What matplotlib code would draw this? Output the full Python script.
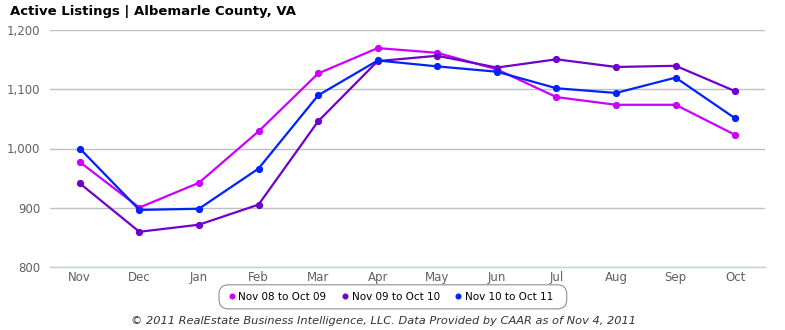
import matplotlib.pyplot as plt
from matplotlib.patches import FancyBboxPatch

months = ['Nov', 'Dec', 'Jan', 'Feb', 'Mar', 'Apr', 'May', 'Jun', 'Jul', 'Aug', 'Sep', 'Oct']
labels = ['Nov 08 to Oct 09', 'Nov 09 to Oct 10', 'Nov 10 to Oct 11']
colors = ['#cc00ff', '#7000cc', '#0022ff']

listings_0809 = [977, 900, 942, 1029, 1127, 1170, 1162, 1134, 1087, 1074, 1074, 1023]
listings_0910 = [941, 859, 871, 905, 1046, 1148, 1157, 1137, 1151, 1138, 1140, 1097]
listings_1011 = [1000, 896, 898, 966, 1090, 1149, 1139, 1130, 1102, 1094, 1120, 1051]
series = [listings_0809, listings_0910, listings_1011]

fig = plt.figure(figsize=(7.85, 3.3), dpi=100)
ax = fig.add_axes([0.0637, 0.192, 0.9108, 0.716])

x = range(len(months))
handles = []
for vals, lab, c in zip(series, labels, colors):
    h, = ax.plot(x, vals, color=c, lw=1.6, marker='o', ms=4.2, label=lab,
                 solid_joinstyle='round')
    handles.append(h)

ax.set_xlim(-0.5, 11.5)
ax.set_ylim(800, 1200)
ax.set_yticks([800, 900, 1000, 1100, 1200])
ax.set_yticklabels(['{:,}'.format(v) for v in ax.get_yticks().astype(int)])
ax.set_xticks(list(x))
ax.set_xticklabels(months)
ax.grid(axis='y', color='#c0c0c0', lw=1)
ax.set_axisbelow(True)
for s in ['top', 'right', 'left']:
    ax.spines[s].set_visible(False)
ax.spines['bottom'].set_color('#c0d0e0')
ax.spines['bottom'].set_linewidth(1)
ax.tick_params(axis='both', length=0, labelsize=8.5, labelcolor='#606060')
ax.tick_params(axis='y', pad=7)
ax.tick_params(axis='x', pad=3)

fig.text(0.0127, 0.965, 'Active Listings | Albemarle County, VA', fontsize=9.5,
         fontweight='bold', va='center', ha='left')

# legend box with rounded border
box = FancyBboxPatch((0.279, 0.064), 0.443, 0.073, transform=fig.transFigure,
                     boxstyle='round,pad=0,rounding_size=0.012', fc='white',
                     ec='#909090', lw=0.8, mutation_aspect=2.4)
fig.patches.append(box)
fig.legend(handles=handles, loc='center', bbox_to_anchor=(0.5, 0.1), ncol=3,
           frameon=False, fontsize=7.5, handlelength=0, handletextpad=0.6,
           columnspacing=1.8, markerscale=0.8)
for h in fig.legends[0].legend_handles:
    h.set_linestyle('none')

fig.text(0.489, 0.027, '\u00a9 2011 RealEstate Business Intelligence, LLC. Data Provided by CAAR as of Nov 4, 2011',
         fontsize=8.2, style='italic', color='#333333', ha='center', va='center')

fig.savefig('out.png', dpi=100)
